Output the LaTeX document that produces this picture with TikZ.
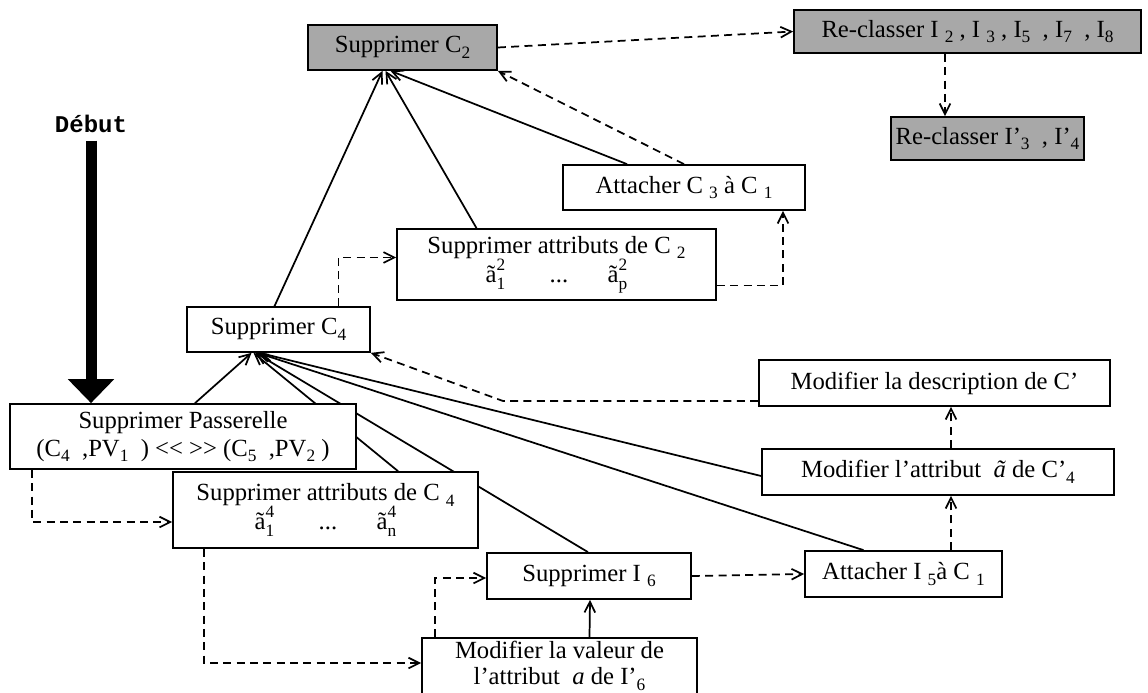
\documentclass[tikz,border=0pt]{standalone}
\usepackage{fontspec}
\setmainfont{Liberation Serif}
\setmonofont{Liberation Mono}
\usetikzlibrary{arrows.meta,calc,backgrounds}
\definecolor{boxgray}{gray}{0.66}
% lowered, smaller index as set in the boxes
\newcommand\dn[1]{\raisebox{-0.5ex}{\fontsize{13}{15}\selectfont #1}}
% attribute name: a tilde with an upper and a lower index
\newcommand\ta[2]{\~a\rlap{\raisebox{1.05ex}{\fontsize{13}{15}\selectfont #1}}%
  \raisebox{-0.6ex}{\fontsize{13}{15}\selectfont #2}}
\begin{document}
\begin{tikzpicture}[x=0.75pt,y=-0.75pt,
  wd/.style={minimum width=#1*0.75pt},
  ht/.style={minimum height=#1*0.75pt},
  box/.style={draw, line width=1.3pt, fill=white, inner sep=0pt, align=center,
    font=\fontsize{18.5}{21}\selectfont},
  graybox/.style={box, fill=boxgray},
  link/.style={line width=1.3pt, -{Straight Barb[length=8pt,width=8pt]}},
  dlink/.style={link, dash pattern=on 6pt off 4pt},
]
\useasboundingbox (0,0) rectangle (1148,692);

% ---- boxes ----
\node[graybox, wd=189, ht=45] (c2) at (402.5,47.5) {Supprimer C\dn{2}};
\node[graybox, wd=347, ht=43] (r1) at (967.5,31.5)
  {Re-classer I \dn{2} , I \dn{3} , I\dn{5}\ \ , I\dn{7}\ \ , I\dn{8}};
\node[graybox, wd=193, ht=43] (r2) at (987.5,138.5) {Re-classer I’\dn{3}\ \ , I’\dn{4}};
\node[box, wd=242, ht=45] (a3) at (684,187.5) {Attacher C \dn{3} à C \dn{1}};
\node[box, wd=319, ht=71] (sa2) at (556.5,264.5)
  {Supprimer attributs de C \dn{2}\\[-1pt]\ta{2}{1}\hspace{1.8em}...\hspace{1.6em}\ta{2}{p}};
\node[box, wd=183, ht=45] (c4) at (278.5,329.5) {Supprimer C\dn{4}};
\node[box, wd=346, ht=65] (pas) at (183,436.5)
  {Supprimer Passerelle\\(C\dn{4}\ \ ,PV\dn{1}\ \ ) <\kern0pt< >\kern0pt> (C\dn{5}\ \ ,PV\dn{2}\ )};
\node[box, wd=305, ht=76] (sa4) at (325.5,510)
  {Supprimer attributs de C \dn{4}\\[-1pt]\ta{4}{1}\hspace{1.8em}...\hspace{1.6em}\ta{4}{n}};
\node[box, wd=204, ht=46] (i6) at (589,576) {Supprimer I \dn{6}};
\node[box, wd=275, ht=56, anchor=north, font=\fontsize{18.5}{20}\selectfont] (mv) at (559.5,637)
  {Modifier la valeur de\\l’attribut\ \ \textit{a} de I’\dn{6}};
\node[box, wd=351, ht=46] (md) at (934.5,383) {Modifier la description de C’};
\node[box, wd=352, ht=46] (ma) at (938,472) {Modifier l’attribut\ \ \textit{\~a} de C’\dn{4}};
\node[box, wd=197, ht=46] (i5) at (903.5,574) {Attacher I \dn{5}à C \dn{1}};

\node[font=\ttfamily\bfseries\fontsize{18}{20}\selectfont] (deb) at (91,124) {Début};

\coordinate (bend) at (503,401);

% ---- connectors, kept behind the boxes ----
\begin{pgfonlayer}{background}
  % start arrow
  \draw[line width=11*0.75pt, -{Triangle[width=45*0.75pt,length=24*0.75pt]}]
    ($(deb.south)+(0,3)$) -- (deb |- pas.north);

  % into "Supprimer C2"
  \draw[link] ($(c4.north)+(-4,0)$) -- ($(c2.south)+(-20,0)$);
  \draw[link] ($(sa2.north)+(-80,0)$) -- ($(c2.south)+(-17,0)$);
  \draw[link] ($(a3.north)+(-57,0)$) -- ($(c2.south)+(-12,0)$);
  \draw[dlink] (a3.north) -- (c2.south east);
  \draw[dlink] (c2.east) -- (r1.west);
  \draw[dlink] (r1.south -| 945,0) -- (r2.north -| 945,0);

  \draw[dlink] ($(c4.north)+(60,0)$) |- ($(sa2.west)+(0,-7)$);
  \draw[dlink] ($(sa2.east)+(0,21)$) -| ($(a3.south)+(99,0)$);

  % into "Supprimer C4"
  \draw[link] ($(pas.north)+(12,0)$) -- ($(c4.south)+(-27,0)$);
  \draw[link] ($(sa4.north)+(72.5,0)$) -- ($(c4.south)+(-25,0)$);
  \draw[link] ($(i6.north)+(-1,0)$) -- ($(c4.south)+(-23,0)$);
  \draw[link] ($(i5.north)+(-40,0)$) -- ($(c4.south)+(-21,0)$);
  \draw[link] ($(ma.west)+(0,4)$) -- ($(c4.south)+(-19,0)$);
  \draw[dlink] ($(md.west)+(0,18)$) -- (bend) -- (c4.south east);

  % lower chain
  \draw[dlink] ($(pas.south west)+(23,0)$) |- ($(sa4.west)+(0,12)$);
  \draw[dlink] ($(sa4.south west)+(32,0)$) |- ($(mv.north west)+(0,26)$);
  \draw[dlink] ($(mv.north west)+(14,0)$) |- ($(i6.west)+(0,2)$);
  \draw[link] ($(mv.north)+(30,0)$) -- ($(i6.south)+(1,0)$);
  \draw[dlink] (i6.east) -- (i5.west);
  \draw[dlink] ($(i5.north)+(47.5,0)$) -- ($(ma.south)+(13,0)$);
  \draw[dlink] ($(ma.north)+(13,0)$) -- ($(md.south)+(16.5,0)$);
\end{pgfonlayer}
\end{tikzpicture}
\end{document}
